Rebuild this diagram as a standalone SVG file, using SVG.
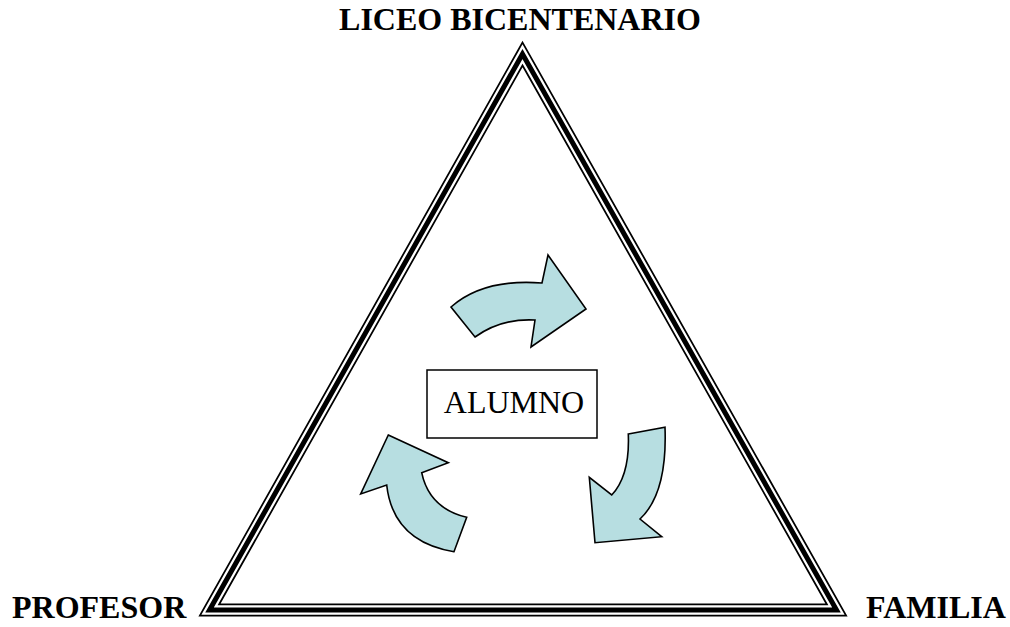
<svg xmlns="http://www.w3.org/2000/svg" width="1010" height="627" viewBox="0 0 1010 627">
<style>
.lbl{font-family:"Liberation Serif","Times New Roman",serif;font-weight:bold;font-size:32px;fill:#000}
.arr{fill:#b7dee1;stroke:#000;stroke-width:1.6;stroke-linejoin:miter}
.tri{fill:none;stroke-linejoin:miter;stroke-miterlimit:10}
</style>
<rect width="1010" height="627" fill="#fff"/>
<g id="triangle">
<polygon class="tri" points="522.5,54 209.5,610 836.5,610" stroke="#000" stroke-width="13"/>
<polygon class="tri" points="522.5,54 209.5,610 836.5,610" stroke="#fff" stroke-width="9.5"/>
<polygon class="tri" points="522.5,54 209.5,610 836.5,610" stroke="#000" stroke-width="5"/>
</g>
<g id="liceo"><text class="lbl" x="520" y="30" text-anchor="middle">LICEO BICENTENARIO</text></g>
<g id="profesor"><text class="lbl" x="12" y="618">PROFESOR</text></g>
<g id="familia"><text class="lbl" x="866" y="618">FAMILIA</text></g>
<g id="alumno">
<rect x="427" y="370" width="170" height="68" fill="#fff" stroke="#000" stroke-width="1.5"/>
<text x="514" y="413" text-anchor="middle" font-family="'Liberation Serif','Times New Roman',serif" font-size="32">ALUMNO</text>
</g>
<g id="connectors">
<path class="arr" d="M451,307 Q483.5,278.4 542,283 L548,255 L586,309 L531,347 L535,320 Q501.6,318.1 475,337 Z"/>
<path class="arr" d="M388.3,435 L448.3,462.7 L421.7,472.7 Q429.2,508.4 466.7,517.3 L454,551.7 Q393,541.6 386.7,485 L360.7,494 Z"/>
<path class="arr" d="M628.3,434 L665,427.3 Q667.5,493.5 640,519 L661.7,536.7 L595,542.7 L589.3,477.3 L611.7,495 Q630,475.5 628.3,434 Z"/>
</g>
</svg>
